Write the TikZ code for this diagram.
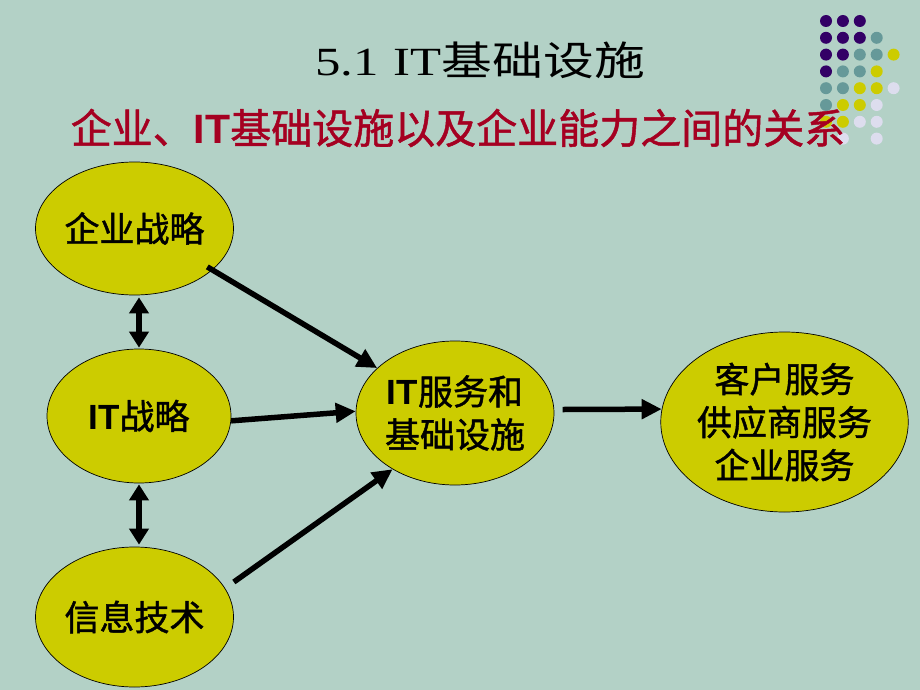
\documentclass[tikz,border=0pt]{standalone}
\usepackage{fontspec}
\setmainfont{Liberation Sans}
\newfontfamily\cjk[FakeBold=1.2]{Noto Sans CJK SC}
\newfontfamily\cjktitle{Noto Sans CJK SC}
\newfontfamily\titleserif{Liberation Serif}
\usetikzlibrary{shapes.geometric,arrows.meta}

\definecolor{slidebg}{HTML}{B3D1C6}
\definecolor{ellfill}{HTML}{CCCC00}
\definecolor{titlered}{HTML}{A50021}
\definecolor{dotpurple}{HTML}{330066}
\definecolor{dotteal}{HTML}{669999}
\definecolor{dotyellow}{HTML}{CCCC00}
\definecolor{dotlav}{HTML}{DDDDEE}

\newcommand{\itbold}{{\rmfamily\bfseries IT}}

\begin{document}
\begin{tikzpicture}[x=1pt,y=-1pt,
    ell/.style={ellipse, draw=black, line width=0.7pt, fill=ellfill, inner sep=0pt,
      align=center, font=\cjk\fontsize{35}{43}\selectfont},
    arr/.style={line width=5.5pt, -{Triangle[length=20pt,width=19pt]}},
    dblarr/.style={line width=5.5pt, {Triangle[length=16pt,width=19pt]}-{Triangle[length=16pt,width=19pt]}},
    dot/.style={circle, inner sep=0pt, minimum size=12pt}]

    % Slide background
    \fill[slidebg] (0,0) rectangle (920,690);
    \useasboundingbox (0,0) rectangle (920,690);

    % Decorative dots (top right)
    \foreach \c/\r in {0/0,1/0,2/0,0/1,1/1,2/1,0/2,1/2,0/3}
        \node[dot, fill=dotpurple] at (826+16.9*\c, 21+16.8*\r) {};
    \foreach \c/\r in {3/1,2/2,3/2,1/3,2/3,0/4,1/4,0/5}
        \node[dot, fill=dotteal] at (826+16.9*\c, 21+16.8*\r) {};
    \foreach \c/\r in {4/2,3/3,2/4,3/4,1/5,2/5,0/6,1/6}
        \node[dot, fill=dotyellow] at (826+16.9*\c, 21+16.8*\r) {};
    \foreach \c/\r in {4/4,3/5,2/6,3/6,1/7,3/7}
        \node[dot, fill=dotlav] at (826+16.9*\c, 21+16.8*\r) {};

    % Titles
    \node[xscale=1.27, font=\fontsize{40}{44}\selectfont] (title) at (480,60)
        {\titleserif 5.1\hspace{0.3em}IT{\cjktitle 基础设施}};
    \node[text=titlered, font=\cjk\fontsize{41}{45}\selectfont] (subtitle) at (458,128)
        {企业、\itbold 基础设施以及企业能力之间的关系};

    % Left column
    \node[ell, minimum width=193pt, minimum height=133pt] (strat) at (134.5,228.5) {企业战略};
    \node[ell, minimum width=184pt, minimum height=134pt] (itstrat) at (139,416) {\itbold 战略};
    \node[ell, minimum width=193pt, minimum height=140pt] (tech) at (134.5,617) {信息技术};

    % IT services and infrastructure
    \node[ell, minimum width=193pt, minimum height=144pt] (infra) at (455,413) {\itbold 服务和\\基础设施};

    % Business capabilities
    \node[ell, minimum width=211pt, minimum height=180pt] (capab) at (784.5,422) {客户服务\\供应商服务\\企业服务};

    % Connections
    \draw[dblarr, shorten <=2pt, shorten >=1pt] ([xshift=4.5pt]strat.south) -- (itstrat.north);
    \draw[dblarr, shorten <=1pt, shorten >=2pt] (itstrat.south) -- ([xshift=4.5pt]tech.north);
    \draw[arr, shorten <=-6pt] (strat.-28.5) -- (infra.150);
    \draw[arr] (itstrat.-3) -- (infra.179);
    \draw[arr] ([yshift=35pt]tech.east) -- (infra.222);
    \draw[arr, shorten <=8.5pt] (infra.2) -- (capab.174);

\end{tikzpicture}
\end{document}
